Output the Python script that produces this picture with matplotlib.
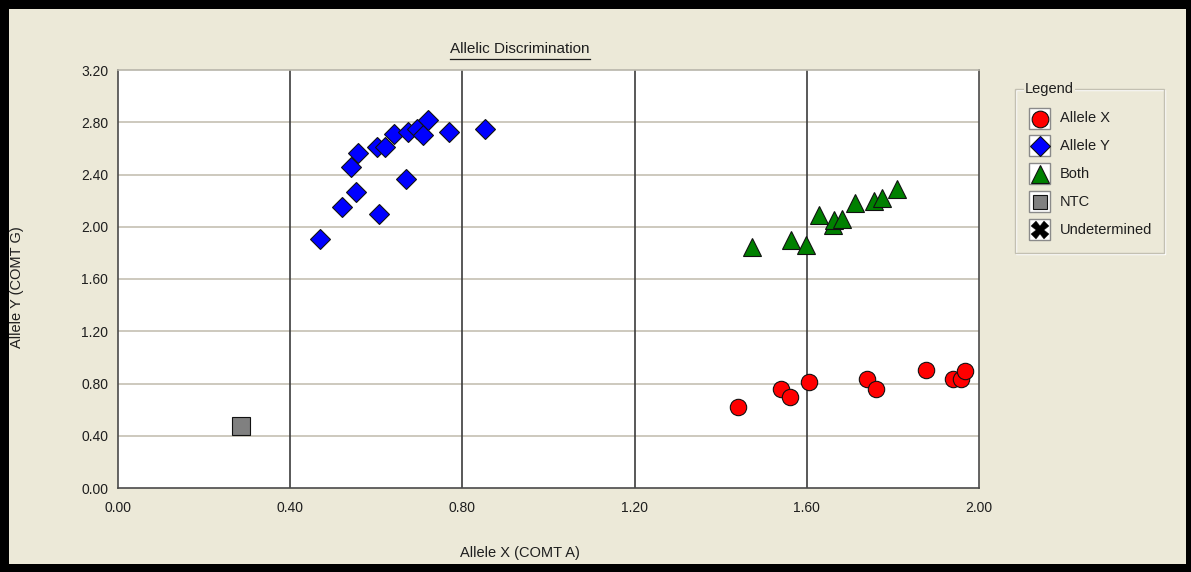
import matplotlib
matplotlib.use('Agg')
import matplotlib.pyplot as plt
from matplotlib.patches import Rectangle
from matplotlib.lines import Line2D
import numpy as np

plt.rcParams['font.family'] = ['Liberation Sans', 'DejaVu Sans']

# ---------------- data ----------------
allele_x_x = [1.440, 1.541, 1.561, 1.606, 1.739, 1.761, 1.876, 1.940, 1.958, 1.967]
allele_x_y = [0.618, 0.756, 0.694, 0.814, 0.832, 0.758, 0.903, 0.834, 0.834, 0.898]

allele_y_x = [0.469, 0.521, 0.541, 0.554, 0.557, 0.602, 0.620, 0.606, 0.641, 0.668,
              0.674, 0.694, 0.708, 0.721, 0.769, 0.853]
allele_y_y = [1.904, 2.149, 2.460, 2.268, 2.567, 2.613, 2.608, 2.095, 2.708, 2.363,
              2.723, 2.746, 2.702, 2.817, 2.723, 2.746]

both_x = [1.472, 1.563, 1.598, 1.629, 1.662, 1.664, 1.682, 1.712, 1.757, 1.774, 1.810]
both_y = [1.843, 1.900, 1.858, 2.088, 2.011, 2.048, 2.056, 2.180, 2.200, 2.218, 2.291]

ntc_x = [0.285]
ntc_y = [0.475]

x_ticks = [0.00, 0.40, 0.80, 1.20, 1.60, 2.00]
y_ticks = [0.00, 0.40, 0.80, 1.20, 1.60, 2.00, 2.40, 2.80, 3.20]
v_grid = [0.40, 0.80, 1.20, 1.60]
h_grid = [0.40, 0.80, 1.20, 1.60, 2.00, 2.40, 2.80]

legend_labels = ['Allele X', 'Allele Y', 'Both', 'NTC', 'Undetermined']

title_text = 'Allelic Discrimination'
xlabel_text = 'Allele X (COMT A)'
ylabel_text = 'Allele Y (COMT G)'

# ---------------- figure ----------------
W, H = 1191, 572
fig = plt.figure(figsize=(W / 100, H / 100), dpi=100)
fig.patch.set_facecolor('black')


def fx(x):
    return x / W


def fy(y):
    return 1 - y / H


BEIGE = '#ECE9D8'
TXT = '#1e1e1e'

bg = Rectangle((fx(9), fy(564)), (1186 - 9) / W, (564 - 9) / H,
               transform=fig.transFigure, facecolor=BEIGE, edgecolor='none', zorder=-10)
fig.add_artist(bg)

ax = fig.add_axes([fx(118), fy(488), (979 - 118) / W, (488 - 70) / H])
ax.set_facecolor('white')
ax.set_xlim(0, 2.0)
ax.set_ylim(0, 3.2)

for g in h_grid:
    ax.axhline(g, color='#C9C5B9', lw=1.3, zorder=1)
for g in v_grid:
    ax.axvline(g, color='#3c3c3c', lw=1.2, zorder=1.1)

for s in ['left', 'bottom', 'right']:
    ax.spines[s].set_color('#4a4a4a')
    ax.spines[s].set_linewidth(1.2)
ax.spines['top'].set_color('#B8B5AA')
ax.spines['top'].set_linewidth(1.2)

ax.set_xticks(x_ticks)
ax.set_xticklabels([f'{v:.2f}' for v in x_ticks])
ax.set_yticks(y_ticks)
ax.set_yticklabels([f'{v:.2f}' for v in y_ticks])
ax.tick_params(axis='x', length=0, pad=9, labelsize=10, labelcolor=TXT)
ax.tick_params(axis='y', length=0, pad=7, labelsize=10, labelcolor=TXT)

mkw = dict(linestyle='none', markeredgecolor='#111111', markeredgewidth=0.8, zorder=3)
ax.plot(allele_x_x, allele_x_y, marker='o', ms=11.8, markerfacecolor='#FF0000', **mkw)
ax.plot(allele_y_x, allele_y_y, marker='D', ms=10, markerfacecolor='#0000FF', **mkw)
ax.plot(both_x, both_y, marker='^', ms=13, markerfacecolor='#008000', **mkw)
ax.plot(ntc_x, ntc_y, marker='s', ms=12.3, markerfacecolor='#808080', **mkw)

# title with underline
t = fig.text(fx(520), fy(49), title_text, ha='center', va='center', fontsize=11, color=TXT)
fig.canvas.draw()
bb = t.get_window_extent()
fig.add_artist(Line2D([bb.x0 / W, bb.x1 / W], [fy(58.5), fy(58.5)], transform=fig.transFigure,
                      color=TXT, lw=0.9))

fig.text(fx(520), fy(553), xlabel_text, ha='center', va='center', fontsize=10.5, color=TXT)
fig.text(fx(17), fy(287), ylabel_text, ha='center', va='center', rotation=90, fontsize=10.5, color=TXT)

# ---------------- legend (group box) ----------------
lx0, lx1, ly0, ly1 = 1015, 1164, 89, 253
fig.add_artist(Rectangle((fx(lx0 + 1), fy(ly1 + 1)), (lx1 - lx0) / W, (ly1 - ly0) / H,
                         transform=fig.transFigure, fill=False, edgecolor='white', lw=1))
fig.add_artist(Rectangle((fx(lx0), fy(ly1)), (lx1 - lx0) / W, (ly1 - ly0) / H,
                         transform=fig.transFigure, fill=False, edgecolor='#C3C0B2', lw=1))
fig.text(fx(1025), fy(89), 'Legend', ha='left', va='center', fontsize=10.5, color=TXT,
         bbox=dict(facecolor=BEIGE, edgecolor='none', pad=1.0))

leg_markers = ['o', 'D', '^', 's', 'X']
leg_colors = ['#FF0000', '#0000FF', '#008000', '#808080', '#000000']
leg_sizes = [12, 10, 13, 9.5, 12.5]
row_y = [118.5, 146, 174, 201.5, 229.5]
for lab, m, c, s, ry in zip(legend_labels, leg_markers, leg_colors, leg_sizes, row_y):
    fig.add_artist(Rectangle((fx(1029), fy(ry + 10.5)), 21 / W, 21 / H,
                             transform=fig.transFigure, facecolor='white',
                             edgecolor='#8a8a8a', lw=1))
    fig.add_artist(Line2D([fx(1039.5)], [fy(ry)], transform=fig.transFigure,
                          marker=m, ms=s, markerfacecolor=c, markeredgecolor='#111111',
                          markeredgewidth=0.8 if m != 'X' else 0.3, linestyle='none'))
    fig.text(fx(1060), fy(ry), lab, ha='left', va='center', fontsize=10.5, color=TXT)

fig.savefig('out.png', dpi=100, facecolor=fig.get_facecolor())
